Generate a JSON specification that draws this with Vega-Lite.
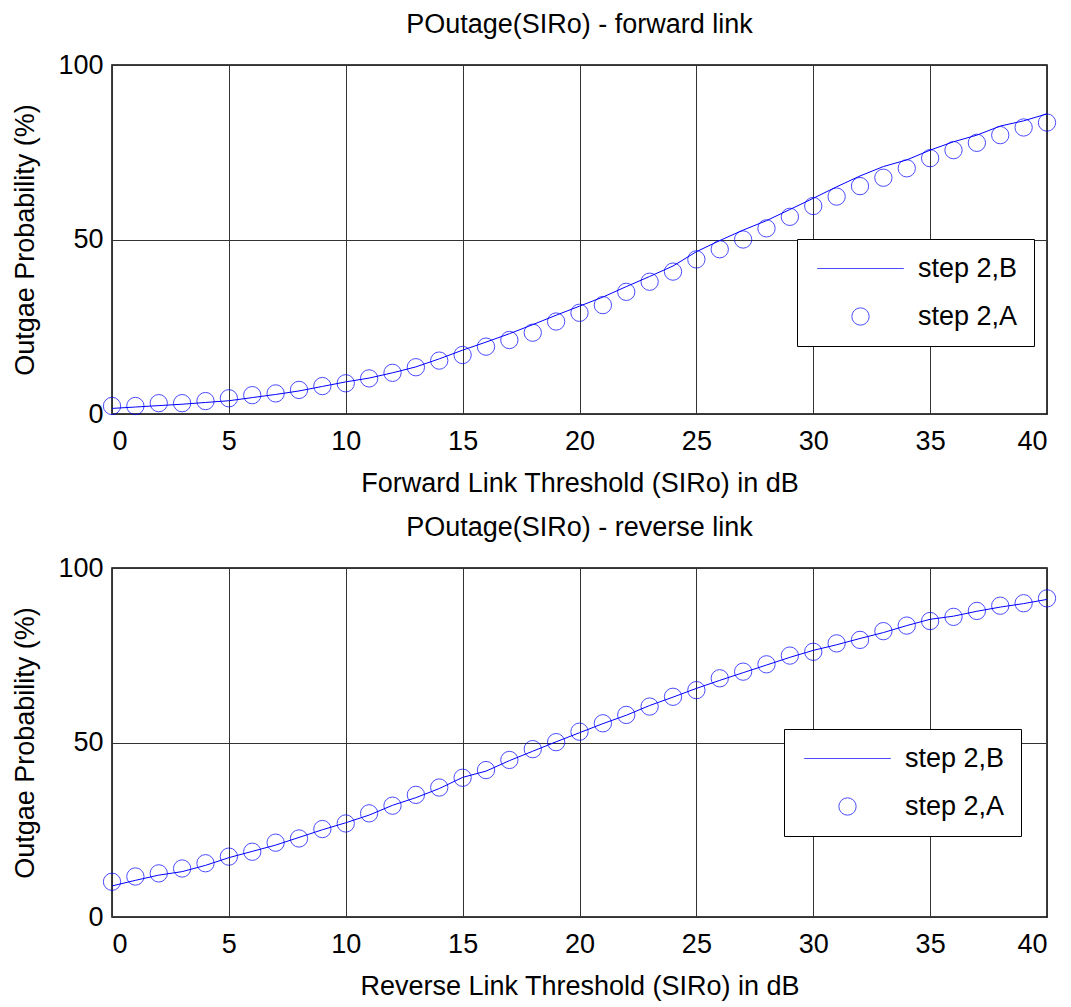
{
  "$schema": "https://vega.github.io/schema/vega-lite/v6.json",
  "background": "white",
  "padding": {"left": 11, "top": 10, "right": 5, "bottom": 5},
  "config": {
    "font": "Liberation Sans",
    "view": {"stroke": "black", "strokeWidth": 1.5},
    "axis": {
      "labelFont": "Liberation Sans", "labelFontSize": 27, "labelColor": "black",
      "titleFont": "Liberation Sans", "titleFontSize": 27, "titleFontWeight": "normal", "titleColor": "black",
      "grid": true, "gridColor": "#333333", "gridWidth": 1, "gridOpacity": 1,
      "ticks": false, "domain": false
    },
    "title": {"font": "Liberation Sans", "fontSize": 27, "fontWeight": "normal", "color": "black", "baseline": "alphabetic", "offset": 12}
  },
  "datasets": {
    "fwd": [
      {"x": 0, "step 2,B": 1.6, "step 2,A": 2.3},
      {"x": 1, "step 2,B": 2.0, "step 2,A": 2.3},
      {"x": 2, "step 2,B": 2.4, "step 2,A": 3.1},
      {"x": 3, "step 2,B": 2.8, "step 2,A": 3.1},
      {"x": 4, "step 2,B": 3.3, "step 2,A": 3.7},
      {"x": 5, "step 2,B": 3.8, "step 2,A": 4.5},
      {"x": 6, "step 2,B": 4.7, "step 2,A": 5.4},
      {"x": 7, "step 2,B": 5.6, "step 2,A": 5.9},
      {"x": 8, "step 2,B": 6.6, "step 2,A": 6.9},
      {"x": 9, "step 2,B": 7.9, "step 2,A": 8.0},
      {"x": 10, "step 2,B": 9.2, "step 2,A": 8.8},
      {"x": 11, "step 2,B": 10.3, "step 2,A": 10.2},
      {"x": 12, "step 2,B": 11.8, "step 2,A": 11.8},
      {"x": 13, "step 2,B": 13.5, "step 2,A": 13.4},
      {"x": 14, "step 2,B": 15.8, "step 2,A": 15.3},
      {"x": 15, "step 2,B": 18.3, "step 2,A": 16.9},
      {"x": 16, "step 2,B": 20.6, "step 2,A": 19.3},
      {"x": 17, "step 2,B": 23.0, "step 2,A": 21.2},
      {"x": 18, "step 2,B": 25.6, "step 2,A": 23.3},
      {"x": 19, "step 2,B": 28.3, "step 2,A": 26.5},
      {"x": 20, "step 2,B": 30.9, "step 2,A": 29.0},
      {"x": 21, "step 2,B": 33.5, "step 2,A": 31.2},
      {"x": 22, "step 2,B": 36.5, "step 2,A": 35.0},
      {"x": 23, "step 2,B": 39.4, "step 2,A": 37.9},
      {"x": 24, "step 2,B": 42.4, "step 2,A": 40.8},
      {"x": 25, "step 2,B": 46.5, "step 2,A": 44.3},
      {"x": 26, "step 2,B": 49.7, "step 2,A": 47.2},
      {"x": 27, "step 2,B": 52.7, "step 2,A": 50.0},
      {"x": 28, "step 2,B": 55.4, "step 2,A": 53.2},
      {"x": 29, "step 2,B": 58.6, "step 2,A": 56.5},
      {"x": 30, "step 2,B": 61.8, "step 2,A": 59.6},
      {"x": 31, "step 2,B": 65.1, "step 2,A": 62.3},
      {"x": 32, "step 2,B": 68.2, "step 2,A": 65.3},
      {"x": 33, "step 2,B": 70.9, "step 2,A": 67.7},
      {"x": 34, "step 2,B": 72.8, "step 2,A": 70.4},
      {"x": 35, "step 2,B": 75.6, "step 2,A": 73.3},
      {"x": 36, "step 2,B": 78.0, "step 2,A": 75.6},
      {"x": 37, "step 2,B": 79.9, "step 2,A": 77.7},
      {"x": 38, "step 2,B": 82.5, "step 2,A": 79.9},
      {"x": 39, "step 2,B": 84.0, "step 2,A": 82.1},
      {"x": 40, "step 2,B": 86.0, "step 2,A": 83.5}
    ],
    "rev": [
      {"x": 0, "step 2,B": 8.9, "step 2,A": 10.1},
      {"x": 1, "step 2,B": 10.5, "step 2,A": 11.6},
      {"x": 2, "step 2,B": 12.0, "step 2,A": 12.5},
      {"x": 3, "step 2,B": 13.0, "step 2,A": 13.9},
      {"x": 4, "step 2,B": 14.8, "step 2,A": 15.4},
      {"x": 5, "step 2,B": 17.0, "step 2,A": 17.3},
      {"x": 6, "step 2,B": 18.8, "step 2,A": 18.7},
      {"x": 7, "step 2,B": 20.6, "step 2,A": 21.3},
      {"x": 8, "step 2,B": 22.8, "step 2,A": 22.5},
      {"x": 9, "step 2,B": 25.0, "step 2,A": 25.2},
      {"x": 10, "step 2,B": 27.0, "step 2,A": 26.8},
      {"x": 11, "step 2,B": 29.2, "step 2,A": 29.7},
      {"x": 12, "step 2,B": 32.0, "step 2,A": 31.9},
      {"x": 13, "step 2,B": 34.2, "step 2,A": 35.0},
      {"x": 14, "step 2,B": 36.8, "step 2,A": 37.1},
      {"x": 15, "step 2,B": 40.0, "step 2,A": 39.9},
      {"x": 16, "step 2,B": 41.8, "step 2,A": 42.1},
      {"x": 17, "step 2,B": 44.8, "step 2,A": 45.0},
      {"x": 18, "step 2,B": 47.5, "step 2,A": 48.1},
      {"x": 19, "step 2,B": 50.2, "step 2,A": 50.1},
      {"x": 20, "step 2,B": 52.8, "step 2,A": 53.1},
      {"x": 21, "step 2,B": 55.4, "step 2,A": 55.5},
      {"x": 22, "step 2,B": 57.8, "step 2,A": 57.9},
      {"x": 23, "step 2,B": 60.6, "step 2,A": 60.3},
      {"x": 24, "step 2,B": 63.0, "step 2,A": 63.1},
      {"x": 25, "step 2,B": 65.5, "step 2,A": 65.0},
      {"x": 26, "step 2,B": 67.8, "step 2,A": 68.4},
      {"x": 27, "step 2,B": 70.0, "step 2,A": 70.3},
      {"x": 28, "step 2,B": 72.2, "step 2,A": 72.4},
      {"x": 29, "step 2,B": 74.4, "step 2,A": 74.9},
      {"x": 30, "step 2,B": 76.4, "step 2,A": 76.0},
      {"x": 31, "step 2,B": 78.0, "step 2,A": 78.4},
      {"x": 32, "step 2,B": 79.8, "step 2,A": 79.4},
      {"x": 33, "step 2,B": 81.5, "step 2,A": 81.9},
      {"x": 34, "step 2,B": 83.5, "step 2,A": 83.5},
      {"x": 35, "step 2,B": 85.3, "step 2,A": 84.8},
      {"x": 36, "step 2,B": 86.2, "step 2,A": 86.0},
      {"x": 37, "step 2,B": 87.6, "step 2,A": 87.7},
      {"x": 38, "step 2,B": 88.8, "step 2,A": 89.2},
      {"x": 39, "step 2,B": 89.8, "step 2,A": 89.9},
      {"x": 40, "step 2,B": 91.0, "step 2,A": 91.3}
    ]
  },
  "bounds": "flush",
  "spacing": 154,
  "resolve": {
    "scale": {"color": "independent", "shape": "independent"},
    "legend": {"color": "independent", "shape": "independent"}
  },
  "vconcat": [
    {
      "title": {"text": "POutage(SIRo) - forward link"},
      "width": 935, "height": 349,
      "data": {"name": "fwd"},
      "transform": [{"fold": ["step 2,B", "step 2,A"], "as": ["series", "value"]}],
      "layer": [
        {
          "transform": [{"filter": "datum.series == 'step 2,B'"}],
          "mark": {"type": "line", "color": "#0000ff", "strokeWidth": 1},
          "encoding": {
            "x": {"field": "x", "type": "quantitative", "scale": {"domain": [0, 40], "nice": false},
                  "axis": {"values": [0, 5, 10, 15, 20, 25, 30, 35, 40], "title": "Forward Link Threshold (SIRo) in dB", "labelPadding": 14, "titlePadding": 16}},
            "y": {"field": "value", "type": "quantitative", "scale": {"domain": [0, 100], "nice": false},
                  "axis": {"values": [0, 50, 100], "title": "Outgae Probability (%)", "labelPadding": 9, "titlePadding": 18}}
          }
        },
        {
          "transform": [{"filter": "datum.series == 'step 2,A'"}],
          "mark": {"type": "point", "filled": false, "size": 300, "strokeWidth": 1},
          "encoding": {
            "x": {"field": "x", "type": "quantitative"},
            "y": {"field": "value", "type": "quantitative"},
            "color": {"field": "series", "type": "nominal",
                      "scale": {"domain": ["step 2,B", "step 2,A"], "range": ["#0000ff", "#0000ff"]},
                      "legend": {"orient": "none", "legendX": 685, "legendY": 174, "title": null,
                                 "labelFontSize": 27, "labelFont": "Liberation Sans", "labelColor": "black",
                                 "strokeColor": "black", "fillColor": "white", "padding": 16, "rowPadding": 20,
                                 "symbolSize": 300, "symbolStrokeWidth": 1, "symbolOffset": 34, "labelOffset": 44}},
            "shape": {"field": "series", "type": "nominal",
                      "scale": {"domain": ["step 2,B", "step 2,A"], "range": ["M-5,0H5", "circle"]}}
          }
        }
      ]
    },
    {
      "title": {"text": "POutage(SIRo) - reverse link"},
      "width": 935, "height": 349,
      "data": {"name": "rev"},
      "transform": [{"fold": ["step 2,B", "step 2,A"], "as": ["series", "value"]}],
      "layer": [
        {
          "transform": [{"filter": "datum.series == 'step 2,B'"}],
          "mark": {"type": "line", "color": "#0000ff", "strokeWidth": 1},
          "encoding": {
            "x": {"field": "x", "type": "quantitative", "scale": {"domain": [0, 40], "nice": false},
                  "axis": {"values": [0, 5, 10, 15, 20, 25, 30, 35, 40], "title": "Reverse Link Threshold (SIRo) in dB", "labelPadding": 14, "titlePadding": 16}},
            "y": {"field": "value", "type": "quantitative", "scale": {"domain": [0, 100], "nice": false},
                  "axis": {"values": [0, 50, 100], "title": "Outgae Probability (%)", "labelPadding": 9, "titlePadding": 18}}
          }
        },
        {
          "transform": [{"filter": "datum.series == 'step 2,A'"}],
          "mark": {"type": "point", "filled": false, "size": 300, "strokeWidth": 1},
          "encoding": {
            "x": {"field": "x", "type": "quantitative"},
            "y": {"field": "value", "type": "quantitative"},
            "color": {"field": "series", "type": "nominal",
                      "scale": {"domain": ["step 2,B", "step 2,A"], "range": ["#0000ff", "#0000ff"]},
                      "legend": {"orient": "none", "legendX": 672, "legendY": 161, "title": null,
                                 "labelFontSize": 27, "labelFont": "Liberation Sans", "labelColor": "black",
                                 "strokeColor": "black", "fillColor": "white", "padding": 16, "rowPadding": 20,
                                 "symbolSize": 300, "symbolStrokeWidth": 1, "symbolOffset": 34, "labelOffset": 44}},
            "shape": {"field": "series", "type": "nominal",
                      "scale": {"domain": ["step 2,B", "step 2,A"], "range": ["M-5,0H5", "circle"]}}
          }
        }
      ]
    }
  ]
}
